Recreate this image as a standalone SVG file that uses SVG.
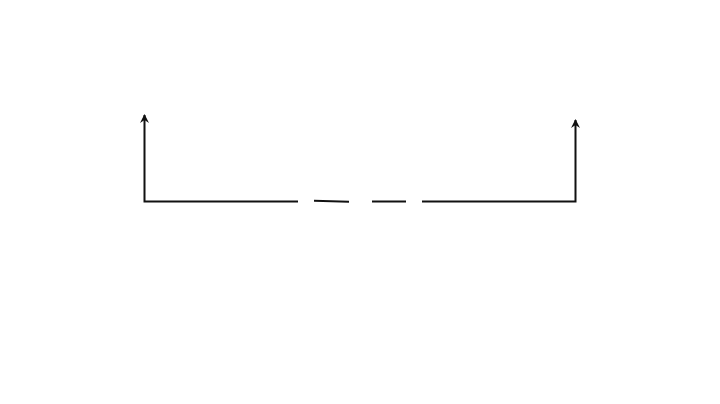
<svg xmlns="http://www.w3.org/2000/svg" width="720" height="404" viewBox="0 0 720 404">
<defs>
<marker id="ah" viewBox="0 0 10 10" refX="9" refY="5" markerWidth="10" markerHeight="9" orient="auto" markerUnits="userSpaceOnUse">
<path d="M0,0 L10,5 L0,10 L3.5,5 Z" fill="#111"/>
</marker>
<style>.ln{fill:none;stroke:#111;stroke-width:2;stroke-linecap:butt;stroke-linejoin:miter}</style>
</defs>
<rect width="720" height="404" fill="#fff"/>
<g id="connectors">
<path class="ln" d="M298,201.5 L144.5,201.5 L144.5,115" marker-end="url(#ah)"/>
<path class="ln" d="M314,200.8 L349,201.8"/>
<path class="ln" d="M372,201.5 L406,201.5"/>
<path class="ln" d="M422,201.5 L575.5,201.5 L575.5,120" marker-end="url(#ah)"/>
</g>
</svg>
